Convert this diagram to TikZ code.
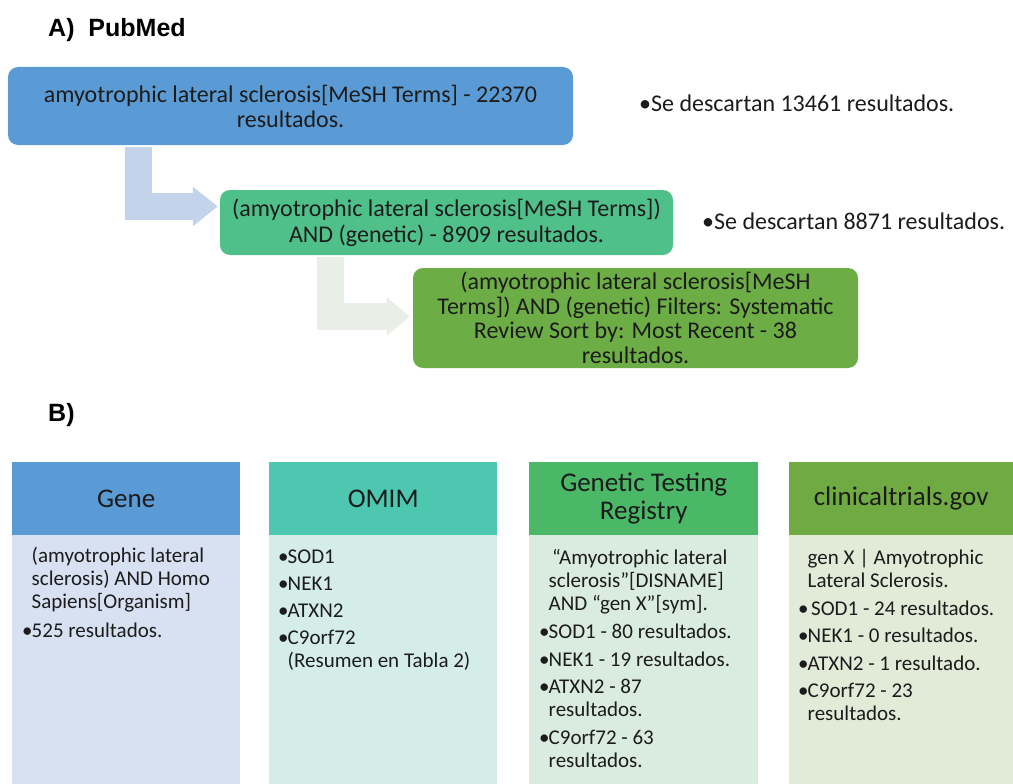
\documentclass[tikz,border=0pt]{standalone}
\usepackage{fontspec}
\setmainfont{Carlito}
\newfontfamily\arialf{Liberation Sans}
\usetikzlibrary{arrows.meta,calc}
\definecolor{bA}{HTML}{5B9BD5}
\definecolor{gB}{HTML}{50C08A}
\definecolor{gC}{HTML}{6DAD46}
\definecolor{arA}{HTML}{C3D3EA}
\definecolor{arB}{HTML}{E9EEE6}
\definecolor{hA}{HTML}{5B9BD5}
\definecolor{hB}{HTML}{4DC7B0}
\definecolor{hC}{HTML}{4BB867}
\definecolor{hD}{HTML}{70AA42}
\definecolor{dA}{HTML}{D7E1F1}
\definecolor{dB}{HTML}{D5EDE9}
\definecolor{dC}{HTML}{DAEBDF}
\definecolor{dD}{HTML}{E2EAD8}
\definecolor{ink}{HTML}{1C1C1C}
\newcommand{\bul}{\makebox[9.5pt][l]{•}}
\newcommand{\ind}{\hspace*{9.5pt}}
\tikzset{
  flowbox/.style={rounded corners=10pt, draw=none, align=center, text=ink, inner sep=0pt,
    font=\fontsize{24}{25}\selectfont},
  bentarrow/.style={line width=27pt, line join=miter},
  note/.style={anchor=west, inner sep=0pt, text=ink, font=\fontsize{24}{25}\selectfont},
  title/.style={anchor=west, inner sep=0pt, text=black, font=\arialf\bfseries\fontsize{25}{28}\selectfont},
  colhead/.style={anchor=north west, inner sep=0pt, align=center, text=ink,
    font=\fontsize{27}{27.5}\selectfont, minimum height=73pt},
  coltext/.style={anchor=north west, inner sep=0pt, align=left, text=ink,
    font=\fontsize{21}{23}\selectfont},
}
\begin{document}
\begin{tikzpicture}[x=1pt,y=-1pt]
\useasboundingbox (0,0) rectangle (1013,784);
% ---- A) PubMed
\node[title] (tA) at (48,30) {A)~~PubMed};
\node[flowbox, fill=bA, minimum width=565pt, minimum height=78pt] (p1) at (290.5,106)
  {amyotrophic lateral sclerosis[MeSH Terms] - 22370\\resultados.};
\node[flowbox, fill=gB, minimum width=453pt, minimum height=65pt, font=\fontsize{24}{26}\selectfont] (p2) at (446.5,222.5)
  {(amyotrophic lateral sclerosis[MeSH Terms])\\AND (genetic) - 8909 resultados.};
\node[flowbox, fill=gC, minimum width=445pt, minimum height=100pt, font=\fontsize{24}{24.5}\selectfont] (p3) at (635.5,318)
  {(amyotrophic lateral sclerosis[MeSH\\Terms]) AND (genetic) Filters: Systematic\\Review Sort by: Most Recent - 38\\resultados.};
\draw[bentarrow, draw=arA, -{Triangle[length=25pt,width=38pt]}]
  ($(p1.south west)+(130.5,2)$) |- ($(p2.west)+(-2,-16)$);
\draw[bentarrow, draw=arB, -{Triangle[length=23pt,width=37pt]}]
  ($(p2.south west)+(110.5,2)$) |- ($(p3.west)+(-3,-1.5)$);
\node[note] (n1) at (639,103) {•Se descartan 13461 resultados.};
\node[note] (n2) at (702,221) {•Se descartan 8871 resultados.};
% ---- B)
\node[title] (tB) at (48,415) {B)};
% columns
\fill[dA] (12,535) rectangle (240,784);
\fill[dB] (269,535) rectangle (497,784);
\fill[dC] (529,535) rectangle (758,784);
\fill[dD] (789,535) rectangle (1013,784);
\node[colhead, fill=hA, minimum width=228pt] (hgene) at (12,462) {Gene};
\node[colhead, fill=hB, minimum width=228pt] (homim) at (269,462) {OMIM};
\node[colhead, fill=hC, minimum width=229pt] (hgtr) at (529,462) {Genetic Testing\\Registry};
\node[colhead, fill=hD, minimum width=224pt] (hct) at (789,462) {clinicaltrials.gov};
\node[coltext] (bgene) at (22,547) {\ind(amyotrophic lateral\\\ind sclerosis) AND Homo\\\ind Sapiens[Organism]\\[5.5pt]\bul 525 resultados.};
\node[coltext] (bomim) at (278,550) {\bul SOD1\\[4pt]\bul NEK1\\[4pt]\bul ATXN2\\[4pt]\bul C9orf72\\\ind(Resumen en Tabla 2)};
\node[coltext] (bgtr) at (539,549) {\ind\,“Amyotrophic lateral\\\ind sclerosis”[DISNAME]\\\ind AND “gen X”[sym].\\[5.5pt]\bul SOD1 - 80 resultados.\\[4.5pt]\bul NEK1 - 19 resultados.\\[4.5pt]\bul ATXN2 - 87\\\ind resultados.\\[4.5pt]\bul C9orf72 - 63\\\ind resultados.};
\node[coltext] (bct) at (798,549) {\ind gen X | Amyotrophic\\\ind Lateral Sclerosis.\\[5pt]\bul\,SOD1 - 24 resultados.\\[4.5pt]\bul NEK1 - 0 resultados.\\[4.5pt]\bul ATXN2 - 1 resultado.\\[4.5pt]\bul C9orf72 - 23\\\ind resultados.};
\end{tikzpicture}
\end{document}
